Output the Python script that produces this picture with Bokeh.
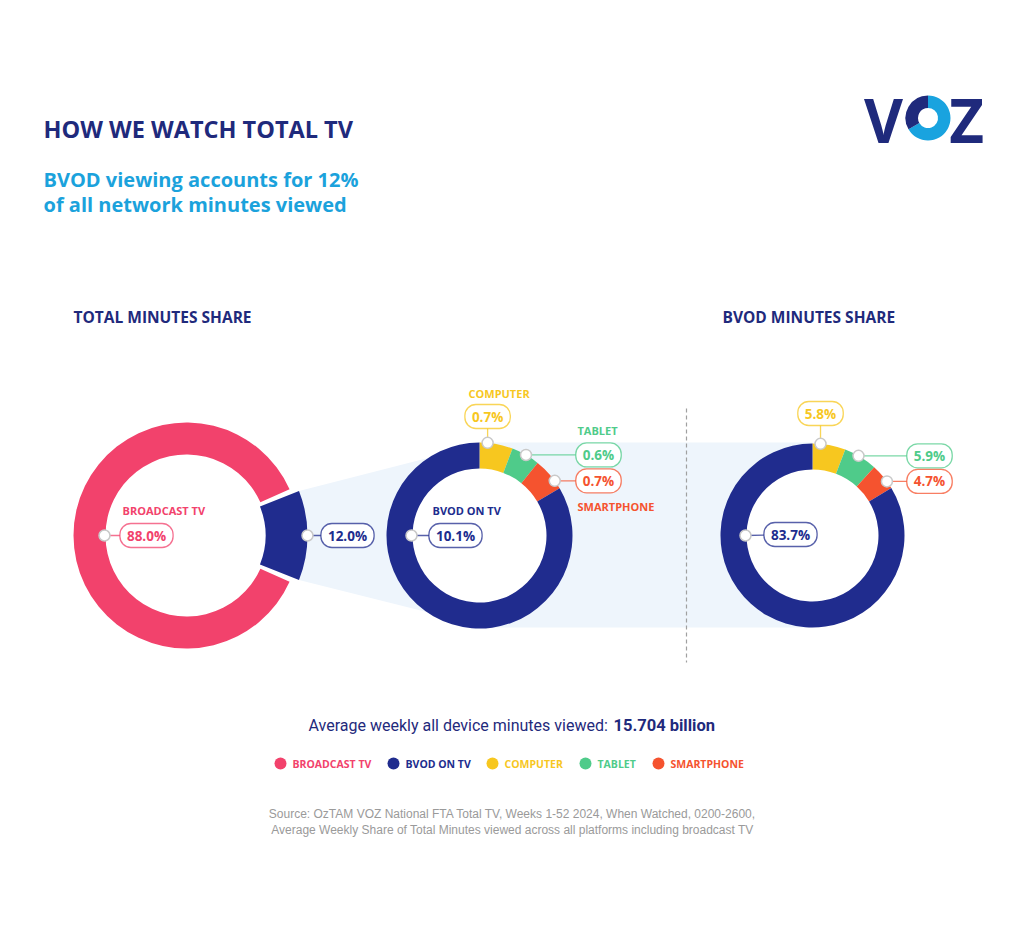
import numpy as np
from bokeh.plotting import figure
from bokeh.models import Range1d
from bokeh.core.properties import value
from bokeh.embed import file_html
from bokeh.resources import INLINE

# ---------------- data ----------------
title_text = "HOW WE WATCH TOTAL TV"
subtitle_lines = ["BVOD viewing accounts for 12%", "of all network minutes viewed"]
section_titles = ["TOTAL MINUTES SHARE", "BVOD MINUTES SHARE"]
total_labels = ["BROADCAST TV", "BVOD"]
total_share = [88.0, 12.0]
device_labels = ["COMPUTER", "TABLET", "SMARTPHONE", "BVOD ON TV"]
device_total_share = [0.7, 0.6, 0.7, 10.1]
device_bvod_share = [5.8, 5.9, 4.7, 83.7]
legend_labels = ["BROADCAST TV", "BVOD ON TV", "COMPUTER", "TABLET", "SMARTPHONE"]
avg_text = "Average weekly all device minutes viewed:"
avg_value = "15.704 billion"
source_lines = [
    "Source: OzTAM VOZ National FTA Total TV, Weeks 1-52 2024, When Watched, 0200-2600,",
    "Average Weekly Share of Total Minutes viewed across all platforms including broadcast TV",
]

# ---------------- styles ----------------
PINK = "#f2426c"
NAVY = "#202c8e"
YELLOW = "#f7c71f"
GREEN = "#4fcb8a"
ORANGE = "#f5532f"
TITLE_NAVY = "#1f2a7c"
SKY = "#1ba2dc"
LOGO_SKY = "#19a3df"
BAND = "#eef5fc"
GRAY = "#9a9a9a"
dev_colors = [YELLOW, GREEN, ORANGE, NAVY]
legend_colors = [PINK, NAVY, YELLOW, GREEN, ORANGE]
FONT = value("Open Sans")

W, H = 1024, 948


def Y(py):
    return H - py


p = figure(width=W, height=H, x_range=Range1d(0, W), y_range=Range1d(0, H),
           x_axis_location=None, y_axis_location=None, toolbar_location=None,
           output_backend="svg", min_border=0)
p.grid.visible = False
p.outline_line_color = None
p.background_fill_color = "white"
p.border_fill_color = "white"


def txt(x, y, s, color, size, style="bold", align="left", baseline="middle", font=FONT, **kw):
    p.text(x=[x], y=[Y(y)], text=[s], text_color=color, text_font=font,
           text_font_size=f"{size}px", text_font_style=style, text_align=align,
           text_baseline=baseline, **kw)


def box(x, y, s, color):
    p.text(x=[x], y=[Y(y)], text=[s], text_color=color, text_font=FONT,
           text_font_size="13.5px", text_font_style="bold", text_align="center",
           text_baseline="middle", background_fill_color="white",
           border_line_color=color, border_line_width=1.3, border_line_alpha=0.75,
           padding=(7, 3), border_radius=11)


def dot(x, y):
    p.scatter(x=[x], y=[Y(y)], size=11, marker="circle", fill_color="white",
              line_color="#c9c9c9", line_width=1.5)


def link(x0, y0, x1, y1, color):
    p.segment(x0=[x0], y0=[Y(y0)], x1=[x1], y1=[Y(y1)], line_color=color,
              line_width=1.3, line_alpha=0.75)


# ---------------- layout ----------------
LC = (186, 535)   # left donut centre (px)
MC = (479, 535)   # middle donut
RC = (812, 535)   # right donut
L_IN, L_OUT = 81, 113
S_IN, S_OUT = 79, 121
M_IN, M_OUT = 67, 93
R_IN, R_OUT = 66, 92

half = np.pi * total_share[1] / sum(total_share)
gap = np.deg2rad(2.6)

# band connecting exploded slice and device donuts
tx, ty = LC[0] + S_OUT * np.cos(half), LC[1] - S_OUT * np.sin(half)
bx, by = tx, LC[1] + S_OUT * np.sin(half)
band_x = [tx, 488, RC[0], RC[0], 488, bx]
band_y = [ty, MC[1] - M_OUT, MC[1] - M_OUT, MC[1] + M_OUT - 1, MC[1] + M_OUT - 1, by]
p.patch(band_x, [Y(v) for v in band_y], fill_color=BAND, line_color=None)

# white donut holes
p.circle(x=[MC[0], RC[0]], y=[Y(MC[1]), Y(RC[1])], radius=[M_IN + 1, R_IN + 1],
         fill_color="white", line_color=None)

# dashed separator
p.line([686, 686], [Y(408), Y(662)], line_color="#a0a0a0", line_width=1.2, line_dash="4 3")

# left donut
p.annular_wedge(x=LC[0], y=Y(LC[1]), inner_radius=L_IN, outer_radius=L_OUT,
                start_angle=half + gap, end_angle=2 * np.pi - half - gap,
                fill_color=PINK, line_color=None)
p.annular_wedge(x=LC[0], y=Y(LC[1]), inner_radius=S_IN, outer_radius=S_OUT,
                start_angle=-half, end_angle=half, fill_color=NAVY, line_color=None)


def ring(values, c, rin, rout):
    frac = np.array(values) / sum(values)
    cum = np.concatenate([[0], np.cumsum(frac)])
    start = np.pi / 2 - 2 * np.pi * cum[1:]
    end = np.pi / 2 - 2 * np.pi * cum[:-1]
    p.annular_wedge(x=c[0], y=Y(c[1]), inner_radius=rin, outer_radius=rout,
                    start_angle=list(start), end_angle=list(end),
                    fill_color=dev_colors, line_color=None)


ring(device_total_share, MC, M_IN, M_OUT)
ring(device_bvod_share, RC, R_IN, R_OUT)

# ---------------- labels ----------------
seg_dot_deg = [5, 30, 54]


def seg_dots(c, r):
    th = np.deg2rad(seg_dot_deg)
    return c[0] + r * np.sin(th), c[1] - r * np.cos(th)


# left donut labels
txt(122, 510, total_labels[0], PINK, 11)
d88 = (LC[0] - L_IN - 1, LC[1])
link(d88[0], d88[1], 146, 535, PINK)
box(146, 535, f"{total_share[0]:.1f}%", PINK)
dot(*d88)
d12 = (LC[0] + S_OUT, LC[1])
link(d12[0], d12[1], 347, 535, NAVY)
box(347, 535, f"{total_share[1]:.1f}%", NAVY)
dot(*d12)

# middle donut labels
mdx, mdy = seg_dots(MC, M_OUT)
m_box = [(mdx[0], 416), (598, mdy[1]), (598, mdy[2])]
m_name = [(468, 393), (577, 430), (577, 506)]
for i in range(3):
    link(mdx[i], mdy[i], m_box[i][0], m_box[i][1], dev_colors[i])
    box(m_box[i][0], m_box[i][1], f"{device_total_share[i]:.1f}%", dev_colors[i])
    txt(m_name[i][0], m_name[i][1], device_labels[i], dev_colors[i], 11)
    dot(mdx[i], mdy[i])
txt(432, 510, device_labels[3], NAVY, 11)
dm = (MC[0] - M_IN - 1, MC[1])
link(dm[0], dm[1], 455, 535, NAVY)
box(455, 535, f"{device_total_share[3]:.1f}%", NAVY)
dot(*dm)

# right donut labels
rdx, rdy = seg_dots(RC, R_OUT)
r_box = [(rdx[0], 413), (929, rdy[1]), (929, rdy[2])]
for i in range(3):
    link(rdx[i], rdy[i], r_box[i][0], r_box[i][1], dev_colors[i])
    box(r_box[i][0], r_box[i][1], f"{device_bvod_share[i]:.1f}%", dev_colors[i])
    dot(rdx[i], rdy[i])
dr = (RC[0] - R_IN - 1, RC[1])
link(dr[0], dr[1], 790, 534, NAVY)
box(790, 534, f"{device_bvod_share[3]:.1f}%", NAVY)
dot(*dr)

# ---------------- titles ----------------
txt(43, 128, title_text, TITLE_NAVY, 23.5)
txt(43, 179, subtitle_lines[0], SKY, 20)
txt(43, 204, subtitle_lines[1], SKY, 20)
txt(73, 316, section_titles[0], TITLE_NAVY, 15.5)
txt(722, 316, section_titles[1], TITLE_NAVY, 15.5)

# logo
txt(883, 119, "V", TITLE_NAVY, 60, align="center")
txt(966, 119, "Z", TITLE_NAVY, 60, align="center")
p.annular_wedge(x=927.5, y=Y(117.5), inner_radius=10, outer_radius=22.5,
                start_angle=[np.deg2rad(210), np.deg2rad(90)],
                end_angle=[np.deg2rad(450), np.deg2rad(210)],
                fill_color=[LOGO_SKY, TITLE_NAVY], line_color=None)

# average weekly
txt(308, 725, avg_text, TITLE_NAVY, 16, style="normal", font=value("Roboto"))
txt(613, 725, avg_value, TITLE_NAVY, 16.5, style="bold", font=value("Roboto"))

# legend
leg_x = [280, 393, 492, 585, 658]
p.scatter(x=leg_x, y=[Y(763)] * 5, size=12, marker="circle", fill_color=legend_colors,
          line_color=None)
for lx, lab, col in zip(leg_x, legend_labels, legend_colors):
    txt(lx + 12, 763, lab, col, 10.5)

# source
txt(512, 813, source_lines[0], GRAY, 12, style="normal", align="center",
    font=value("Liberation Sans"))
txt(512, 829, source_lines[1], GRAY, 12, style="normal", align="center",
    font=value("Liberation Sans"))

open("out.html", "w").write(file_html(p, INLINE))
